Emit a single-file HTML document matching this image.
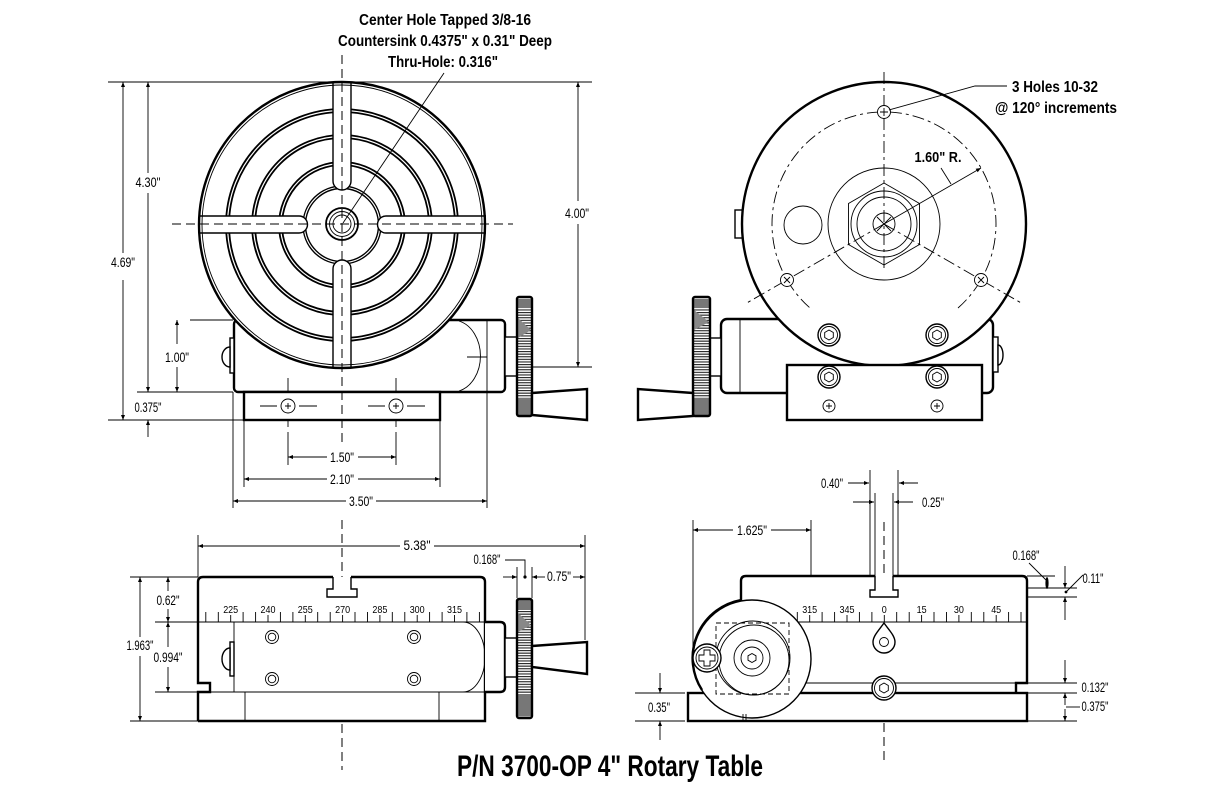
<!DOCTYPE html>
<html><head><meta charset="utf-8"><style>
html,body{margin:0;padding:0;background:#fff;}
svg{display:block;}
text{font-family:"Liberation Sans",sans-serif;fill:#000;}
.t{stroke:#000;stroke-width:2.4;fill:none;}
.m{stroke:#000;stroke-width:1.4;fill:none;}
.r{stroke:#000;stroke-width:1.8;fill:none;}
.n{stroke:#000;stroke-width:0.9;fill:none;}
.w{fill:#fff;}
.dash{stroke:#000;stroke-width:1;fill:none;stroke-dasharray:9 5;}
.dd{stroke:#000;stroke-width:0.9;fill:none;stroke-dasharray:12 4 3 4;}
.dl{font-size:14px;}
.sc{font-size:10.5px;}
.b{font-weight:bold;}
</style></head><body>
<svg width="1224" height="792" viewBox="0 0 1224 792" xmlns="http://www.w3.org/2000/svg">
<defs>
<marker id="a" viewBox="0 0 10 10" refX="10" refY="5" markerWidth="7" markerHeight="5" markerUnits="userSpaceOnUse" orient="auto-start-reverse"><path d="M0,1 L10,5 L0,9z" fill="#000"/></marker>
<pattern id="k" width="20" height="2.6" patternUnits="userSpaceOnUse"><rect width="20" height="2.6" fill="#fff"/><rect width="20" height="1.1" fill="#222"/></pattern>
</defs>

<!-- ================= TOP TEXT ================= -->
<text class="b" x="445" y="25" font-size="16" text-anchor="middle" textLength="172" lengthAdjust="spacingAndGlyphs">Center Hole Tapped 3/8-16</text>
<text class="b" x="445" y="46" font-size="16" text-anchor="middle" textLength="214" lengthAdjust="spacingAndGlyphs">Countersink 0.4375" x 0.31" Deep</text>
<text class="b" x="443" y="67" font-size="16" text-anchor="middle" textLength="110" lengthAdjust="spacingAndGlyphs">Thru-Hole: 0.316"</text>

<!-- ================= TOP-LEFT VIEW ================= -->
<line class="n" x1="108" y1="82" x2="592" y2="82"/>
<line class="n" x1="137" y1="392" x2="233" y2="392"/>
<line class="n" x1="108" y1="420" x2="244" y2="420"/>
<line class="n" x1="190" y1="320" x2="233" y2="320"/>
<line class="n" x1="360" y1="367" x2="592" y2="367"/>
<line class="n" x1="148" y1="82" x2="148" y2="173" marker-start="url(#a)"/>
<line class="n" x1="148" y1="193" x2="148" y2="392" marker-end="url(#a)"/>
<text class="dl" x="148" y="187" text-anchor="middle" textLength="25" lengthAdjust="spacingAndGlyphs">4.30"</text>
<line class="n" x1="123" y1="82" x2="123" y2="253" marker-start="url(#a)"/>
<line class="n" x1="123" y1="280" x2="123" y2="420" marker-end="url(#a)"/>
<text class="dl" x="123" y="267" text-anchor="middle" textLength="24" lengthAdjust="spacingAndGlyphs">4.69"</text>
<line class="n" x1="177" y1="320" x2="177" y2="344" marker-start="url(#a)"/>
<line class="n" x1="177" y1="367" x2="177" y2="392" marker-end="url(#a)"/>
<text class="dl" x="177" y="362" text-anchor="middle" textLength="24" lengthAdjust="spacingAndGlyphs">1.00"</text>
<line class="n" x1="148" y1="437" x2="148" y2="420" marker-end="url(#a)"/>
<text class="dl" x="148" y="412" text-anchor="middle" textLength="27" lengthAdjust="spacingAndGlyphs">0.375"</text>
<line class="n" x1="578" y1="82" x2="578" y2="201" marker-start="url(#a)"/>
<line class="n" x1="578" y1="224" x2="578" y2="367" marker-end="url(#a)"/>
<text class="dl" x="577" y="218" text-anchor="middle" textLength="24" lengthAdjust="spacingAndGlyphs">4.00"</text>
<line class="n" x1="244" y1="420" x2="244" y2="487"/>
<line class="n" x1="440" y1="420" x2="440" y2="487"/>
<line class="n" x1="233" y1="392" x2="233" y2="508"/>
<line class="n" x1="487" y1="320" x2="487" y2="508"/>
<line class="n" x1="288" y1="457" x2="327" y2="457" marker-start="url(#a)"/>
<line class="n" x1="358" y1="457" x2="396" y2="457" marker-end="url(#a)"/>
<text class="dl" x="342" y="462" text-anchor="middle" textLength="24" lengthAdjust="spacingAndGlyphs">1.50"</text>
<line class="n" x1="244" y1="479" x2="327" y2="479" marker-start="url(#a)"/>
<line class="n" x1="358" y1="479" x2="440" y2="479" marker-end="url(#a)"/>
<text class="dl" x="342" y="484" text-anchor="middle" textLength="24" lengthAdjust="spacingAndGlyphs">2.10"</text>
<line class="n" x1="233" y1="501" x2="346" y2="501" marker-start="url(#a)"/>
<line class="n" x1="376" y1="501" x2="487" y2="501" marker-end="url(#a)"/>
<text class="dl" x="361" y="506" text-anchor="middle" textLength="24" lengthAdjust="spacingAndGlyphs">3.50"</text>

<rect class="t w" x="234" y="320" width="271" height="72" rx="4"/>
<path class="n" d="M459,321 A28,36 0 0 1 459,391"/>
<line class="n" x1="487" y1="321" x2="487" y2="391"/>
<line class="n" x1="467" y1="357" x2="487" y2="357"/>
<rect class="m w" x="230" y="338" width="4" height="35"/>
<path class="m w" d="M230,347 A8,10 0 0 0 230,367 Z"/>
<rect class="t w" x="244" y="392" width="196" height="28"/>
<circle class="n" cx="288" cy="406" r="7"/><path class="n" d="M285,406h6M288,403v6"/>
<circle class="n" cx="396" cy="406" r="7"/><path class="n" d="M393,406h6M396,403v6"/>
<path class="n" d="M260,406h17M299,406h18M368,406h17M407,406h18"/>
<path class="n" d="M288,378v15M288,419v8M288,432v33M396,378v15M396,419v8M396,432v33"/>
<rect class="m w" x="505" y="337" width="12" height="39"/>
<rect x="517" y="297" width="15" height="119" rx="2" fill="url(#k)"/>
<rect x="518" y="299" width="13" height="9" fill="#777"/>
<polygon points="518,318 531,330 518,338" fill="#888"/>
<rect x="518" y="398" width="13" height="16" fill="#777"/>
<rect x="517" y="297" width="15" height="119" rx="2" class="t"/>
<polygon class="t w" points="532,393 587,389 587,420 532,415"/>

<circle cx="342" cy="225" r="143" fill="#fff"/>
<g class="r">
<circle cx="342" cy="225" r="116"/><circle cx="342" cy="225" r="113"/>
<circle cx="342" cy="225" r="90"/><circle cx="342" cy="225" r="87"/>
<circle cx="342" cy="225" r="63"/><circle cx="342" cy="225" r="60"/>
</g>
<circle class="m" cx="342" cy="225" r="39"/><circle class="m" cx="342" cy="225" r="36.5"/>
<path d="M333,80 L333,181 A9,9 0 0 0 351,181 L351,80Z" fill="#fff"/>
<path d="M333,370 L333,269 A9,9 0 0 1 351,269 L351,370Z" fill="#fff"/>
<path d="M196,216 L299,216 A8.5,8.5 0 0 1 299,233 L196,233Z" fill="#fff"/>
<path d="M489,216 L386,216 A8.5,8.5 0 0 0 386,233 L489,233Z" fill="#fff"/>
<path class="m" d="M333,83 L333,181 A9,9 0 0 0 351,181 L351,83"/>
<path class="m" d="M333,367 L333,269 A9,9 0 0 1 351,269 L351,367"/>
<path class="m" d="M199,216 L299,216 A8.5,8.5 0 0 1 299,233 L199,233"/>
<path class="m" d="M486,216 L386,216 A8.5,8.5 0 0 0 386,233 L486,233"/>
<circle class="n" cx="342" cy="225" r="140"/>
<circle class="t" cx="342" cy="225" r="143"/>
<circle class="r" cx="342" cy="224" r="16"/>
<circle class="n" cx="342" cy="224" r="12.5"/>
<circle class="n" cx="342" cy="224" r="9"/>
<line class="dash" x1="342" y1="55" x2="342" y2="447"/>
<line class="dash" x1="172" y1="224" x2="513" y2="224"/>
<line class="n" x1="444" y1="73" x2="343" y2="223"/>

<!-- ================= TOP-RIGHT VIEW ================= -->
<rect class="t w" x="721" y="319" width="272" height="74" rx="6"/>
<line class="n" x1="740" y1="320" x2="740" y2="392"/>
<rect class="m w" x="993" y="337" width="5" height="35"/>
<path class="m w" d="M998,345 A5,10 0 0 1 998,365 Z"/>
<rect class="m w" x="710" y="338" width="11" height="38"/>
<rect x="693" y="297" width="17" height="119" rx="2" fill="url(#k)"/>
<rect x="694" y="299" width="15" height="9" fill="#777"/>
<polygon points="694,310 709,322 694,330" fill="#888"/>
<rect x="694" y="398" width="15" height="16" fill="#777"/>
<rect x="693" y="297" width="17" height="119" rx="2" class="t"/>
<polygon class="t w" points="693,393 638,389 638,420 693,416"/>
<rect class="m w" x="735" y="210" width="8" height="28"/>
<circle class="t w" cx="884" cy="224" r="142"/>
<path class="dd" d="M958,308 A112,112 0 1 0 810,308"/>
<line class="dd" x1="884" y1="72" x2="884" y2="268"/>
<line class="dd" x1="884" y1="224" x2="745" y2="304"/>
<line class="dd" x1="884" y1="224" x2="1023" y2="304"/>
<line class="n" x1="884" y1="224" x2="981" y2="168" marker-end="url(#a)"/>
<line class="n" x1="941" y1="168" x2="951" y2="184"/>
<text class="b" x="938" y="162" font-size="15" text-anchor="middle" textLength="47" lengthAdjust="spacingAndGlyphs">1.60" R.</text>
<circle class="n" cx="803" cy="225" r="19"/>
<circle class="n" cx="884" cy="224" r="56"/>
<polygon class="n" points="884,183 919.5,203.5 919.5,244.5 884,265 848.5,244.5 848.5,203.5"/>
<circle class="n" cx="884" cy="224" r="33"/>
<circle class="n" cx="884" cy="224" r="27"/>
<circle class="n" cx="884" cy="224" r="11"/>
<path class="n" d="M877,217l14,14M891,217l-14,14"/>
<circle class="n w" cx="884" cy="112" r="6.5"/><path class="n" d="M880,112h8M884,108v8"/>
<circle class="n w" cx="787" cy="280" r="6.5"/><path class="n" d="M784,277l6,6M790,277l-6,6"/>
<circle class="n w" cx="981" cy="280" r="6.5"/><path class="n" d="M978,277l6,6M984,277l-6,6"/>
<polyline class="n" points="1007,86 975,86 889,110"/>
<text class="b" x="1055" y="92" font-size="15.5" text-anchor="middle" textLength="86" lengthAdjust="spacingAndGlyphs">3 Holes 10-32</text>
<text class="b" x="1056" y="113" font-size="15.5" text-anchor="middle" textLength="122" lengthAdjust="spacingAndGlyphs">@ 120° increments</text>
<circle class="m w" cx="829" cy="335" r="11"/><circle class="n" cx="829" cy="335" r="8.5"/><polygon class="n" points="829,330 833.3,332.5 833.3,337.5 829,340 824.7,337.5 824.7,332.5"/>
<circle class="m w" cx="937" cy="335" r="11"/><circle class="n" cx="937" cy="335" r="8.5"/><polygon class="n" points="937,330 941.3,332.5 941.3,337.5 937,340 932.7,337.5 932.7,332.5"/>
<rect class="t w" x="787" y="365" width="195" height="55"/>
<circle class="m w" cx="829" cy="377" r="11"/><circle class="n" cx="829" cy="377" r="8.5"/><polygon class="n" points="829,372 833.3,374.5 833.3,379.5 829,382 824.7,379.5 824.7,374.5"/>
<circle class="m w" cx="937" cy="377" r="11"/><circle class="n" cx="937" cy="377" r="8.5"/><polygon class="n" points="937,372 941.3,374.5 941.3,379.5 937,382 932.7,379.5 932.7,374.5"/>
<circle class="n" cx="829" cy="406" r="6"/><path class="n" d="M826,406h6M829,403v6"/>
<circle class="n" cx="937" cy="406" r="6"/><path class="n" d="M934,406h6M937,403v6"/>

<!-- ================= BOTTOM-LEFT VIEW ================= -->
<line class="n" x1="198" y1="535" x2="198" y2="577"/>
<line class="n" x1="585" y1="535" x2="585" y2="640"/>
<line class="n" x1="198" y1="546" x2="400" y2="546" marker-start="url(#a)"/>
<line class="n" x1="434" y1="546" x2="585" y2="546" marker-end="url(#a)"/>
<text class="dl" x="417" y="550" text-anchor="middle" textLength="27" lengthAdjust="spacingAndGlyphs">5.38"</text>
<polyline class="n" points="505,560 525,560 525,576"/>
<circle cx="525" cy="577" r="1.6" fill="#000"/>
<text class="dl" x="487" y="564" text-anchor="middle" textLength="27" lengthAdjust="spacingAndGlyphs">0.168"</text>
<line class="n" x1="517" y1="567" x2="517" y2="598"/>
<line class="n" x1="532" y1="567" x2="532" y2="598"/>
<line class="n" x1="503" y1="577" x2="517" y2="577" marker-end="url(#a)"/>
<line class="n" x1="545" y1="577" x2="532" y2="577" marker-end="url(#a)"/>
<line class="n" x1="573" y1="577" x2="585" y2="577" marker-end="url(#a)"/>
<text class="dl" x="559" y="581" text-anchor="middle" textLength="24" lengthAdjust="spacingAndGlyphs">0.75"</text>
<line class="n" x1="130" y1="577" x2="198" y2="577"/>
<line class="n" x1="130" y1="721" x2="198" y2="721"/>
<line class="n" x1="140" y1="577" x2="140" y2="637" marker-start="url(#a)"/>
<line class="n" x1="140" y1="656" x2="140" y2="721" marker-end="url(#a)"/>
<text class="dl" x="140" y="650" text-anchor="middle" textLength="27" lengthAdjust="spacingAndGlyphs">1.963"</text>
<line class="n" x1="168" y1="577" x2="168" y2="591" marker-start="url(#a)"/>
<line class="n" x1="168" y1="609" x2="168" y2="622" marker-end="url(#a)"/>
<text class="dl" x="168" y="605" text-anchor="middle" textLength="23" lengthAdjust="spacingAndGlyphs">0.62"</text>
<line class="n" x1="168" y1="622" x2="168" y2="647" marker-start="url(#a)"/>
<line class="n" x1="168" y1="667" x2="168" y2="692" marker-end="url(#a)"/>
<text class="dl" x="168" y="662" text-anchor="middle" textLength="29" lengthAdjust="spacingAndGlyphs">0.994"</text>
<line class="dash" x1="342" y1="520" x2="342" y2="577"/>
<line class="dash" x1="342" y1="724" x2="342" y2="770"/>
<rect x="199" y="578" width="285" height="142" fill="#fff"/>
<path class="t" d="M198,721 L198,692 L210,692 L210,683 L198,683 L198,582 Q198,577 203,577 L333,577 M351,577 L480,577 Q485,577 485,582 L485,721 L198,721"/>
<path class="m" d="M333,577 L333,589 L327,589 L327,597 L357,597 L357,589 L351,589 L351,577"/>
<line class="n" x1="155" y1="622" x2="485" y2="622"/>
<line class="n" x1="155" y1="692" x2="485" y2="692"/>
<line class="n" x1="234" y1="622" x2="234" y2="692"/>
<line class="n" x1="245" y1="692" x2="245" y2="721"/>
<line class="n" x1="439" y1="692" x2="439" y2="721"/>
<path class="n" d="M463,622 A22,35 0 0 1 463,692"/>
<path class="n" d="M205.8,612v10M218.3,612v10M230.7,615v7M243.1,612v10M255.6,612v10M268,615v7M280.4,612v10M292.9,612v10M305.3,615v7M317.7,612v10M330.2,612v10M342.6,615v7M355,612v10M367.5,612v10M379.9,615v7M392.3,612v10M404.8,612v10M417.2,615v7M429.6,612v10M442.1,612v10M454.5,615v7M466.9,612v10M479.4,612v10"/>
<g class="sc" text-anchor="middle">
<text x="230.7" y="613" textLength="15" lengthAdjust="spacingAndGlyphs">225</text>
<text x="268" y="613" textLength="15" lengthAdjust="spacingAndGlyphs">240</text>
<text x="305.3" y="613" textLength="15" lengthAdjust="spacingAndGlyphs">255</text>
<text x="342.6" y="613" textLength="15" lengthAdjust="spacingAndGlyphs">270</text>
<text x="379.9" y="613" textLength="15" lengthAdjust="spacingAndGlyphs">285</text>
<text x="417.2" y="613" textLength="15" lengthAdjust="spacingAndGlyphs">300</text>
<text x="454.5" y="613" textLength="15" lengthAdjust="spacingAndGlyphs">315</text>
</g>
<rect class="m w" x="230" y="642" width="4" height="34"/>
<path class="m w" d="M230,648 A8,11 0 0 0 230,670 Z"/>
<circle class="n" cx="272" cy="637" r="6.5"/><circle class="n" cx="272" cy="637" r="3.8"/>
<circle class="n" cx="414" cy="637" r="6.5"/><circle class="n" cx="414" cy="637" r="3.8"/>
<circle class="n" cx="272" cy="679" r="6.5"/><circle class="n" cx="272" cy="679" r="3.8"/>
<circle class="n" cx="414" cy="679" r="6.5"/><circle class="n" cx="414" cy="679" r="3.8"/>
<path class="t w" d="M485,622 L500,622 Q505,622 505,627 L505,687 Q505,692 500,692 L485,692"/>
<rect class="m w" x="505" y="638" width="12" height="39"/>
<rect x="517" y="599" width="15" height="119" rx="2" fill="url(#k)"/>
<rect x="518" y="601" width="13" height="9" fill="#777"/>
<polygon points="518,613 531,625 518,632" fill="#888"/>
<rect x="518" y="694" width="13" height="22" fill="#777"/>
<rect x="517" y="599" width="15" height="119" rx="2" class="t"/>
<polygon class="t w" points="532,646 587,642 587,674 532,667"/>

<!-- ================= BOTTOM-RIGHT VIEW ================= -->
<line class="n" x1="693" y1="520" x2="693" y2="650"/>
<line class="n" x1="811" y1="520" x2="811" y2="622"/>
<line class="n" x1="693" y1="530" x2="733" y2="530" marker-start="url(#a)"/>
<line class="n" x1="771" y1="530" x2="811" y2="530" marker-end="url(#a)"/>
<text class="dl" x="752" y="535" text-anchor="middle" textLength="30" lengthAdjust="spacingAndGlyphs">1.625"</text>
<line class="n" x1="870" y1="470" x2="870" y2="597"/>
<line class="n" x1="898" y1="470" x2="898" y2="597"/>
<line class="n" x1="875" y1="493" x2="875" y2="576"/>
<line class="n" x1="893" y1="493" x2="893" y2="576"/>
<line class="n" x1="848" y1="483" x2="869" y2="483" marker-end="url(#a)"/>
<line class="n" x1="918" y1="483" x2="899" y2="483" marker-end="url(#a)"/>
<text class="dl" x="832" y="488" text-anchor="middle" textLength="22" lengthAdjust="spacingAndGlyphs">0.40"</text>
<line class="n" x1="853" y1="502" x2="874" y2="502" marker-end="url(#a)"/>
<line class="n" x1="913" y1="502" x2="894" y2="502" marker-end="url(#a)"/>
<text class="dl" x="933" y="507" text-anchor="middle" textLength="22" lengthAdjust="spacingAndGlyphs">0.25"</text>
<line class="dash" x1="884" y1="522" x2="884" y2="576"/>
<line class="dash" x1="884" y1="723" x2="884" y2="760"/>
<line class="n" x1="1027" y1="576" x2="1055" y2="576"/>
<line class="n" x1="1029" y1="563" x2="1046" y2="580"/>
<ellipse cx="1047" cy="583" rx="1.6" ry="6" fill="#000"/>
<text class="dl" x="1026" y="560" text-anchor="middle" textLength="27" lengthAdjust="spacingAndGlyphs">0.168"</text>
<line class="n" x1="900" y1="588" x2="1077" y2="588"/>
<line class="n" x1="900" y1="597" x2="1077" y2="597"/>
<line class="n" x1="1065" y1="566" x2="1065" y2="588" marker-end="url(#a)"/>
<line class="n" x1="1065" y1="620" x2="1065" y2="597" marker-end="url(#a)"/>
<line class="n" x1="1083" y1="575" x2="1066" y2="592"/>
<circle cx="1066" cy="592" r="1.4" fill="#000"/>
<text class="dl" x="1093" y="583" text-anchor="middle" textLength="21" lengthAdjust="spacingAndGlyphs">0.11"</text>
<line class="n" x1="1027" y1="683" x2="1077" y2="683"/>
<line class="n" x1="1027" y1="693" x2="1077" y2="693"/>
<line class="n" x1="1027" y1="721" x2="1077" y2="721"/>
<line class="n" x1="1065" y1="660" x2="1065" y2="683" marker-end="url(#a)"/>
<line class="n" x1="1065" y1="705" x2="1065" y2="693" marker-end="url(#a)"/>
<line class="n" x1="1065" y1="709" x2="1065" y2="721" marker-end="url(#a)"/>
<line class="n" x1="1066" y1="707" x2="1080" y2="707"/>
<text class="dl" x="1095" y="692" text-anchor="middle" textLength="27" lengthAdjust="spacingAndGlyphs">0.132"</text>
<text class="dl" x="1095" y="711" text-anchor="middle" textLength="27" lengthAdjust="spacingAndGlyphs">0.375"</text>
<line class="n" x1="635" y1="693" x2="685" y2="693"/>
<line class="n" x1="635" y1="721" x2="685" y2="721"/>
<line class="n" x1="660" y1="673" x2="660" y2="693" marker-end="url(#a)"/>
<line class="n" x1="660" y1="740" x2="660" y2="721" marker-end="url(#a)"/>
<text class="dl" x="659" y="712" text-anchor="middle" textLength="22" lengthAdjust="spacingAndGlyphs">0.35"</text>
<rect x="742" y="577" width="284" height="106" fill="#fff"/>
<path class="t" d="M741,603 L741,581 Q741,576 746,576 L875,576 M893,576 L1022,576 Q1027,576 1027,581 L1027,683 L1016,683 L1016,693"/>
<path class="m" d="M875,576 L875,590 L870,590 L870,597 L898,597 L898,590 L893,590 L893,576"/>
<line class="n" x1="797" y1="622" x2="1027" y2="622"/>
<line class="n" x1="805" y1="683" x2="1016" y2="683"/>
<rect class="t w" x="688" y="693" width="339" height="28"/>
<path class="n" d="M797.3,612v10M809.7,615v7M822.1,612v10M834.6,612v10M847,615v7M859.4,612v10M871.9,612v10M884.3,615v7M896.7,612v10M909.2,612v10M921.6,615v7M934,612v10M946.5,612v10M958.9,615v7M971.3,612v10M983.8,612v10M996.2,615v7M1008.6,612v10M1021,612v10"/>
<g class="sc" text-anchor="middle">
<text x="809.7" y="613" textLength="15" lengthAdjust="spacingAndGlyphs">315</text>
<text x="847" y="613" textLength="15" lengthAdjust="spacingAndGlyphs">345</text>
<text x="884.3" y="613" textLength="5" lengthAdjust="spacingAndGlyphs">0</text>
<text x="921.6" y="613" textLength="10" lengthAdjust="spacingAndGlyphs">15</text>
<text x="958.9" y="613" textLength="10" lengthAdjust="spacingAndGlyphs">30</text>
<text x="996.2" y="613" textLength="10" lengthAdjust="spacingAndGlyphs">45</text>
</g>
<path class="m w" d="M884,623 C879,630 873,636 873,642 A11,11 0 0 0 895,642 C895,636 889,630 884,623 Z"/>
<circle class="n" cx="884" cy="642" r="4.5"/>
<circle class="m w" cx="884" cy="688" r="12"/><circle class="n" cx="884" cy="688" r="9.5"/>
<polygon class="n" points="884,683 888.3,685.5 888.3,690.5 884,693 879.7,690.5 879.7,685.5"/>
<circle class="m w" cx="752" cy="659" r="59"/>
<path class="t" d="M702,690 A59,59 0 0 1 741,600"/>
<rect class="n" x="716" y="623" width="73" height="71" stroke-dasharray="5 3"/>
<circle class="n" cx="753" cy="658" r="37"/>
<circle class="n" cx="754" cy="660" r="35"/>
<circle class="n" cx="752" cy="658" r="18"/>
<circle class="n" cx="752" cy="658" r="11"/>
<polygon class="n" points="752,653.5 756,655.8 756,660.2 752,662.5 748,660.2 748,655.8"/>
<path class="n" d="M743,714v7M746,714v7"/>
<circle class="m w" cx="707" cy="658" r="14"/>
<circle class="n" cx="707" cy="658" r="11"/>
<path class="n" d="M704,650h6v5h5v6h-5v5h-6v-5h-5v-6h5z"/>

<text class="b" x="610" y="776" font-size="30" text-anchor="middle" textLength="306" lengthAdjust="spacingAndGlyphs">P/N 3700-OP 4" Rotary Table</text>
</svg>
</body></html>
